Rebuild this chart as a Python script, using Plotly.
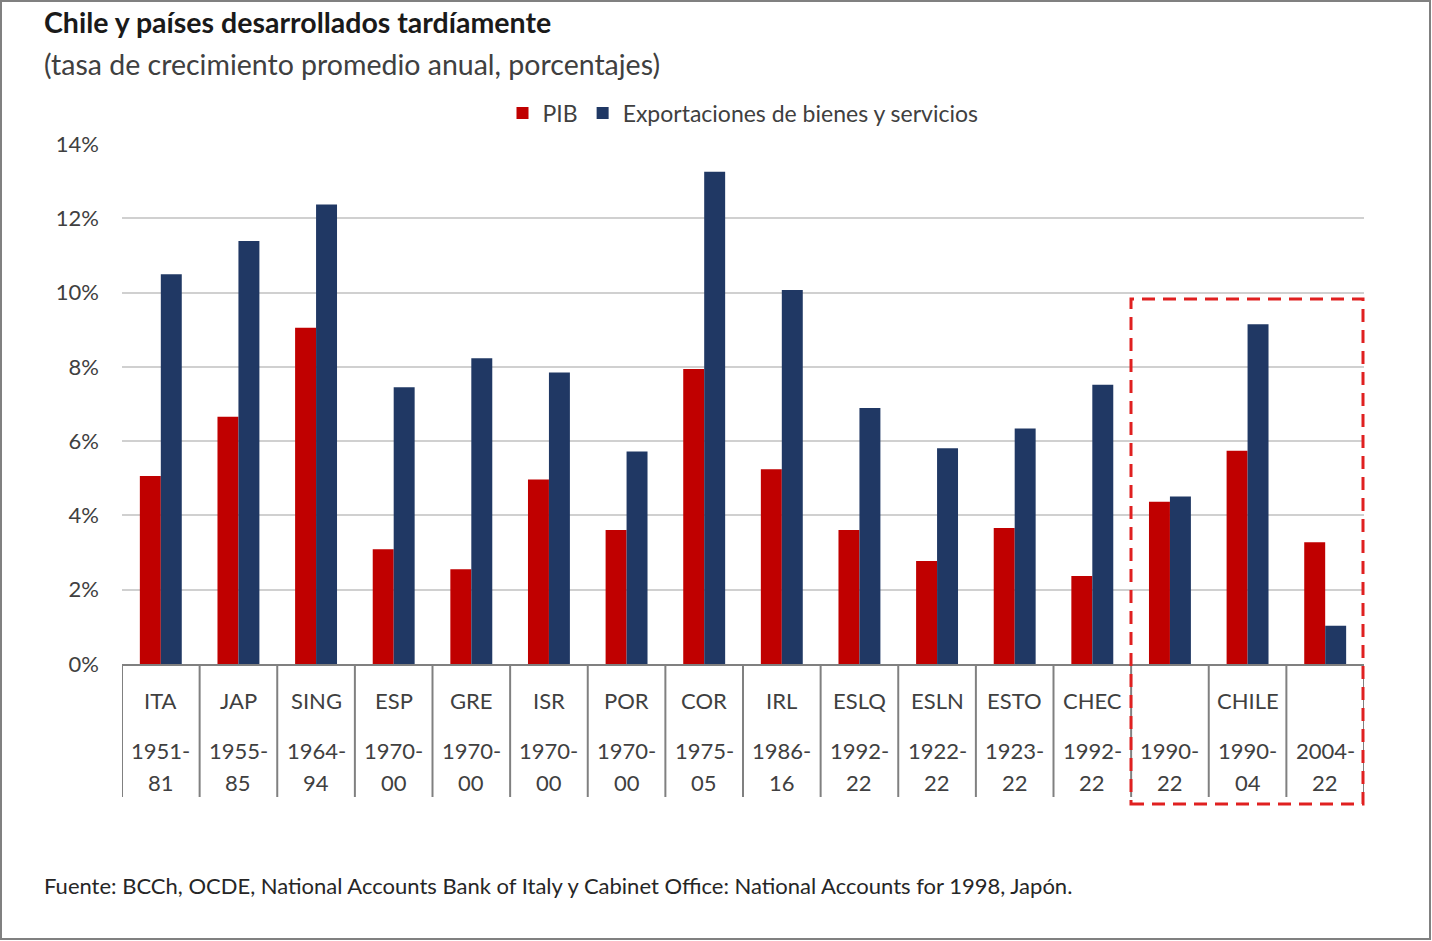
import plotly.graph_objects as go

countries = ["ITA", "JAP", "SING", "ESP", "GRE", "ISR", "POR", "COR", "IRL",
             "ESLQ", "ESLN", "ESTO", "CHEC", "", "CHILE", ""]
periods = ["1951-81", "1955-85", "1964-94", "1970-00", "1970-00", "1970-00",
           "1970-00", "1975-05", "1986-16", "1992-22", "1922-22", "1923-22",
           "1992-22", "1990-22", "1990-04", "2004-22"]
pib = [5.06, 6.66, 9.05, 3.09, 2.55, 4.97, 3.61, 7.94, 5.24,
       3.61, 2.77, 3.66, 2.37, 4.37, 5.74, 3.28]
exportaciones = [10.49, 11.39, 12.37, 7.45, 8.23, 7.85, 5.72, 13.25, 10.07,
                 6.89, 5.81, 6.34, 7.52, 4.51, 9.15, 1.03]
yticks = [0, 2, 4, 6, 8, 10, 12, 14]

RED = "#C00000"
NAVY = "#203864"
FONT = "Lato"

x = list(range(len(countries)))

fig = go.Figure()
fig.add_trace(go.Bar(x=x, y=pib, name="PIB", marker=dict(color=RED, line=dict(width=0))))
fig.add_trace(go.Bar(x=x, y=exportaciones, name="Exportaciones de bienes y servicios",
                     marker=dict(color=NAVY, line=dict(width=0))))

W, H = 1432, 941
L, R, T, B = 122, 1364, 144, 664


def px(xp):
    return (xp - L) / (R - L)


def py(yp):
    return (B - yp) / (B - T)


annotations = []
annotations.append(dict(text="<b>Chile y países desarrollados tardíamente</b>", x=px(42), y=py(22),
                        xref="paper", yref="paper", xanchor="left", yanchor="middle", showarrow=False,
                        font=dict(family=FONT, size=28.5, color="#1a1a1a")))
annotations.append(dict(text="(tasa de crecimiento promedio anual, porcentajes)", x=px(42), y=py(64),
                        xref="paper", yref="paper", xanchor="left", yanchor="middle", showarrow=False,
                        font=dict(family=FONT, size=28.5, color="#404040")))
annotations.append(dict(text="Fuente: BCCh, OCDE, National Accounts Bank of Italy y Cabinet Office: National Accounts for 1998, Japón.",
                        x=px(42), y=py(885), xref="paper", yref="paper", xanchor="left", yanchor="middle",
                        showarrow=False, font=dict(family=FONT, size=22, color="#262626")))

for i, (c, p) in enumerate(zip(countries, periods)):
    a, b = p.split("-")
    for txt, yy in ((c, 700), (a + "-", 750), (b, 782)):
        if txt:
            annotations.append(dict(text=txt, x=i, y=py(yy), xref="x", yref="paper",
                                    xanchor="center", yanchor="middle", showarrow=False,
                                    font=dict(family=FONT, size=22, color="#404040")))

shapes = []
for i in range(len(countries) + 1):
    shapes.append(dict(type="line", x0=i - 0.5, x1=i - 0.5, y0=0, y1=py(797), xref="x", yref="paper",
                       line=dict(color="#808080", width=2)))
shapes.append(dict(type="rect", x0=px(1131), x1=px(1363), y0=py(804), y1=py(299), xref="paper", yref="paper",
                   line=dict(color="#E02020", width=3, dash="13px,8px"), fillcolor="rgba(0,0,0,0)"))
shapes.append(dict(type="rect", x0=px(1), x1=px(W - 2), y0=py(H - 2), y1=py(1), xref="paper", yref="paper",
                   line=dict(color="#808080", width=2), fillcolor="rgba(0,0,0,0)"))

fig.update_layout(
    width=W, height=H,
    margin=dict(l=L, r=W - R, t=T, b=H - B, autoexpand=False),
    paper_bgcolor="white", plot_bgcolor="white",
    barmode="group", bargap=0.46, bargroupgap=0,
    showlegend=True,
    legend=dict(orientation="h", x=0.5, xanchor="center", y=py(113), yanchor="middle",
                font=dict(family=FONT, size=23, color="#404040"), itemwidth=30, tracegroupgap=0),
    annotations=annotations,
    shapes=shapes,
    font=dict(family=FONT),
)
fig.update_xaxes(range=[-0.5, len(countries) - 0.5], showticklabels=False, showgrid=False,
                 showline=True, linecolor="#808080", linewidth=2, zeroline=False, ticks="")
fig.update_yaxes(range=[0, 14], tickvals=yticks, ticktext=[f"{v}%" for v in yticks],
                 showgrid=True, gridcolor="#D0D0D0", gridwidth=2, zeroline=False,
                 showline=False, ticks="", ticklabelstandoff=22,
                 tickfont=dict(family=FONT, size=22, color="#404040"))

fig.write_html("out.html", config={"displayModeBar": False},
               post_script="document.body.style.margin='0px';")
